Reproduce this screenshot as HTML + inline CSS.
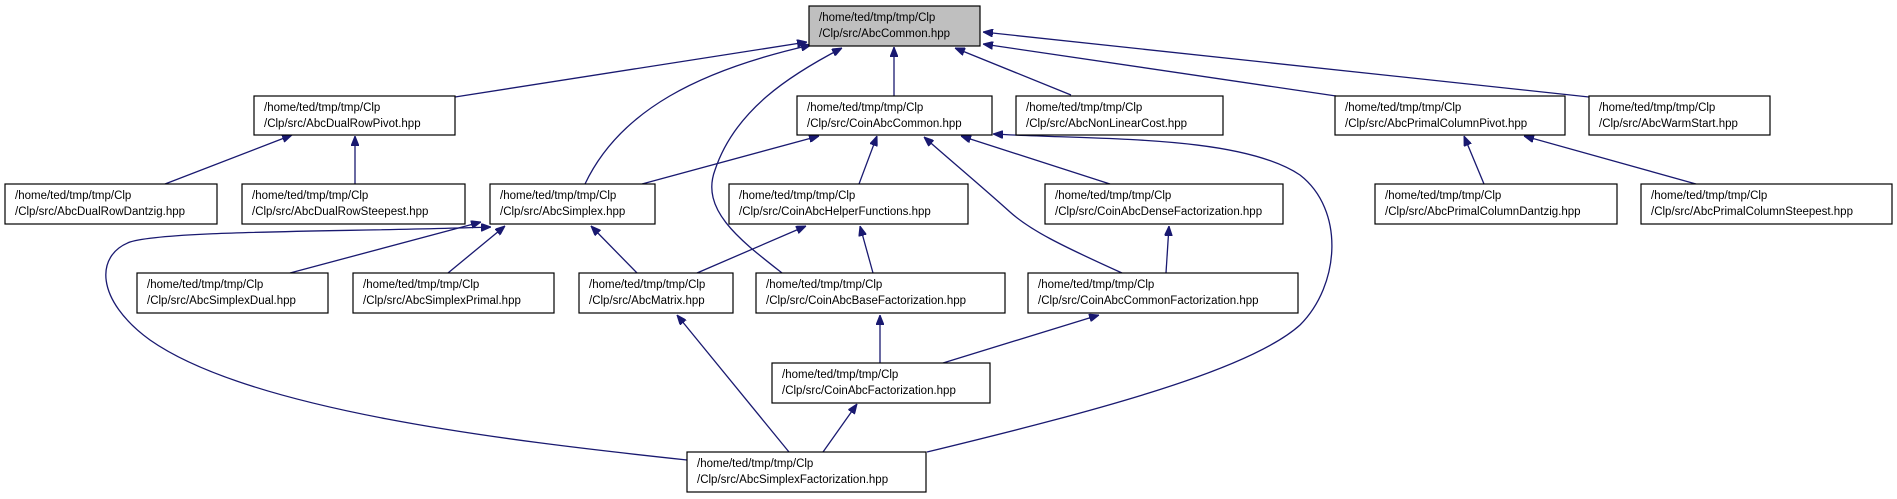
<!DOCTYPE html>
<html><head><meta charset="utf-8"><style>
html,body{margin:0;padding:0;background:#fff;}
svg{display:block;}
text{font-family:"Liberation Sans",sans-serif;font-size:11.5px;fill:#000;}
.b{fill:#fff;stroke:#000;stroke-width:1.2;}
.e{fill:none;stroke:#191970;stroke-width:1.3;marker-end:url(#a);}
</style></head><body>
<svg width="1897" height="499" viewBox="0 0 1897 499" xmlns="http://www.w3.org/2000/svg">
<defs><marker id="a" viewBox="0 0 10 8" refX="10" refY="4" markerWidth="10" markerHeight="8" markerUnits="userSpaceOnUse" orient="auto"><path d="M0,0 L10,4 L0,8 z" fill="#191970" stroke="#191970"/></marker></defs>

<!-- edges -->
<path class="e" d="M455,97 L807,42"/>
<path class="e" d="M585,184 C620,110 700,70 811,45"/>
<path class="e" d="M782,273 C740,240 700,210 715,170 C735,110 790,75 842,48"/>
<path class="e" d="M894,96 L894,47"/>
<path class="e" d="M1071,95 L955,48"/>
<path class="e" d="M1336,96 L983,44"/>
<path class="e" d="M1589,97 L983,32"/>
<path class="e" d="M165,184 L292,135"/>
<path class="e" d="M355,184 L355,136"/>
<path class="e" d="M642,184 L819,136"/>
<path class="e" d="M859,184 L877,136"/>
<path class="e" d="M1122,273 C1060,245 1030,230 1010,212 C980,185 950,160 924,137"/>
<path class="e" d="M1110,184 L961,136"/>
<path class="e" d="M927,452 C1100,410 1250,370 1300,325 C1340,285 1345,210 1300,175 C1240,135 1100,140 993,134"/>
<path class="e" d="M1484,184 L1464,136"/>
<path class="e" d="M1696,184 L1524,136"/>
<path class="e" d="M290,273 L481,222"/>
<path class="e" d="M448,273 L505,226"/>
<path class="e" d="M637,273 L591,226"/>
<path class="e" d="M687,460 C500,440 250,410 150,340 C95,300 95,255 130,242 C170,230 350,232 491,227"/>
<path class="e" d="M697,273 L806,226"/>
<path class="e" d="M873,273 L860,226"/>
<path class="e" d="M1166,273 L1169,226"/>
<path class="e" d="M789,452 L677,315"/>
<path class="e" d="M880,363 L880,315"/>
<path class="e" d="M943,363 L1099,315"/>
<path class="e" d="M823,452 L857,404"/>

<!-- nodes -->
<rect x="809" y="6" width="171" height="40" fill="#bfbfbf" stroke="#000" stroke-width="1.2"/>
<text x="819" y="21">/home/ted/tmp/tmp/Clp</text><text x="819" y="37">/Clp/src/AbcCommon.hpp</text>

<rect class="b" x="254" y="96" width="201" height="39"/>
<text x="264" y="111">/home/ted/tmp/tmp/Clp</text><text x="264" y="127">/Clp/src/AbcDualRowPivot.hpp</text>

<rect class="b" x="797" y="96" width="195" height="39"/>
<text x="807" y="111">/home/ted/tmp/tmp/Clp</text><text x="807" y="127">/Clp/src/CoinAbcCommon.hpp</text>

<rect class="b" x="1016" y="96" width="207" height="39"/>
<text x="1026" y="111">/home/ted/tmp/tmp/Clp</text><text x="1026" y="127">/Clp/src/AbcNonLinearCost.hpp</text>

<rect class="b" x="1335" y="96" width="230" height="39"/>
<text x="1345" y="111">/home/ted/tmp/tmp/Clp</text><text x="1345" y="127">/Clp/src/AbcPrimalColumnPivot.hpp</text>

<rect class="b" x="1589" y="96" width="181" height="39"/>
<text x="1599" y="111">/home/ted/tmp/tmp/Clp</text><text x="1599" y="127">/Clp/src/AbcWarmStart.hpp</text>

<rect class="b" x="5" y="184" width="212" height="40"/>
<text x="15" y="199">/home/ted/tmp/tmp/Clp</text><text x="15" y="215">/Clp/src/AbcDualRowDantzig.hpp</text>

<rect class="b" x="242" y="184" width="223" height="40"/>
<text x="252" y="199">/home/ted/tmp/tmp/Clp</text><text x="252" y="215">/Clp/src/AbcDualRowSteepest.hpp</text>

<rect class="b" x="490" y="184" width="165" height="40"/>
<text x="500" y="199">/home/ted/tmp/tmp/Clp</text><text x="500" y="215">/Clp/src/AbcSimplex.hpp</text>

<rect class="b" x="729" y="184" width="239" height="40"/>
<text x="739" y="199">/home/ted/tmp/tmp/Clp</text><text x="739" y="215">/Clp/src/CoinAbcHelperFunctions.hpp</text>

<rect class="b" x="1045" y="184" width="238" height="40"/>
<text x="1055" y="199">/home/ted/tmp/tmp/Clp</text><text x="1055" y="215">/Clp/src/CoinAbcDenseFactorization.hpp</text>

<rect class="b" x="1375" y="184" width="242" height="40"/>
<text x="1385" y="199">/home/ted/tmp/tmp/Clp</text><text x="1385" y="215">/Clp/src/AbcPrimalColumnDantzig.hpp</text>

<rect class="b" x="1641" y="184" width="251" height="40"/>
<text x="1651" y="199">/home/ted/tmp/tmp/Clp</text><text x="1651" y="215">/Clp/src/AbcPrimalColumnSteepest.hpp</text>

<rect class="b" x="137" y="273" width="191" height="40"/>
<text x="147" y="288">/home/ted/tmp/tmp/Clp</text><text x="147" y="304">/Clp/src/AbcSimplexDual.hpp</text>

<rect class="b" x="353" y="273" width="201" height="40"/>
<text x="363" y="288">/home/ted/tmp/tmp/Clp</text><text x="363" y="304">/Clp/src/AbcSimplexPrimal.hpp</text>

<rect class="b" x="579" y="273" width="154" height="40"/>
<text x="589" y="288">/home/ted/tmp/tmp/Clp</text><text x="589" y="304">/Clp/src/AbcMatrix.hpp</text>

<rect class="b" x="756" y="273" width="249" height="40"/>
<text x="766" y="288">/home/ted/tmp/tmp/Clp</text><text x="766" y="304">/Clp/src/CoinAbcBaseFactorization.hpp</text>

<rect class="b" x="1028" y="273" width="270" height="40"/>
<text x="1038" y="288">/home/ted/tmp/tmp/Clp</text><text x="1038" y="304">/Clp/src/CoinAbcCommonFactorization.hpp</text>

<rect class="b" x="772" y="363" width="218" height="40"/>
<text x="782" y="378">/home/ted/tmp/tmp/Clp</text><text x="782" y="394">/Clp/src/CoinAbcFactorization.hpp</text>

<rect class="b" x="687" y="452" width="239" height="40"/>
<text x="697" y="467">/home/ted/tmp/tmp/Clp</text><text x="697" y="483">/Clp/src/AbcSimplexFactorization.hpp</text>
</svg>
</body></html>
